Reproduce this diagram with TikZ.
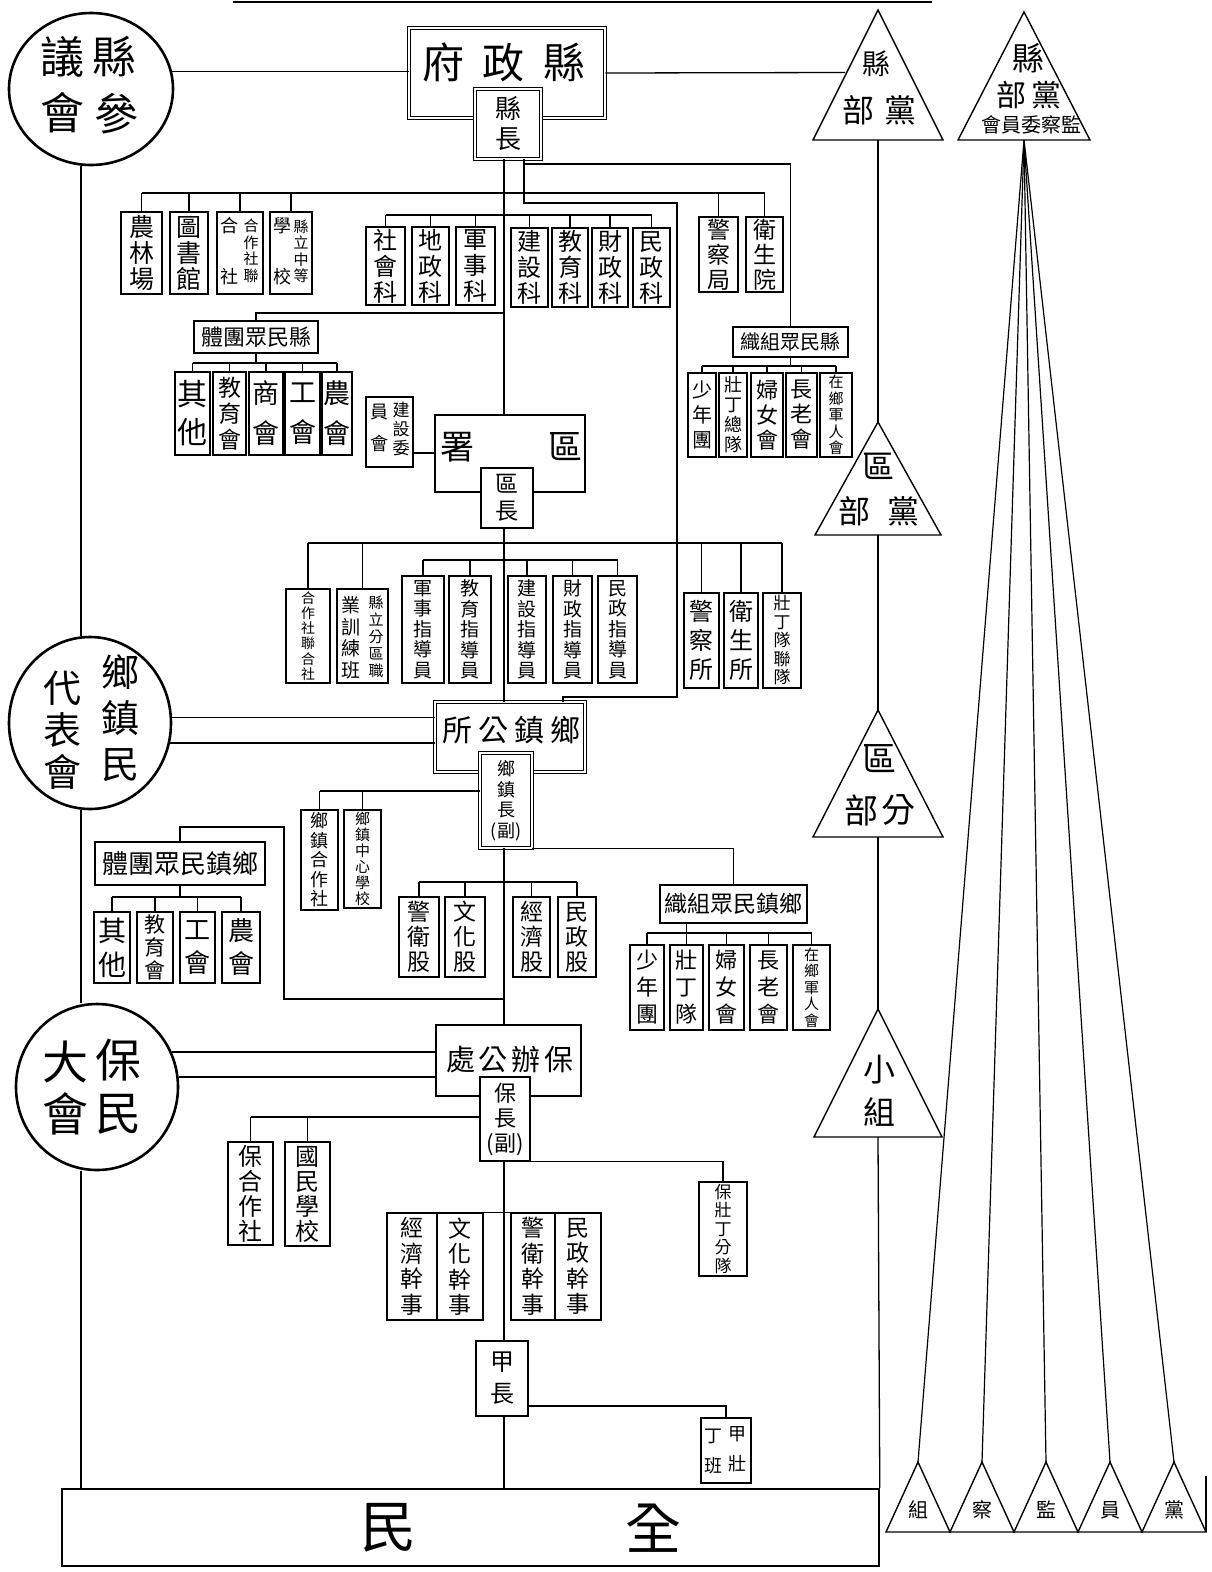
\documentclass[tikz,border=0pt]{standalone}
\usepackage{fontspec}
\newfontfamily\cjk{Noto Sans CJK TC}
\usetikzlibrary{shapes.geometric}
\newcommand\bx[7][]{\node[vb,minimum width={(#5)-(#3)},minimum height={(#6)-(#4)},#1] (#2) at ({((#3)+(#5))/2},{((#4)+(#6))/2}) {#7};}
\newcommand\drops[2]{\foreach \nd in {#2}{\draw[ln] (\nd.north) -- (\nd.north |- 0,#1);}}
\newcommand\hbus[3]{\draw[ln] (#2.north |- 0,#1) -- (#3.north |- 0,#1);}
\newcommand\ptri[5]{\draw[tri] ({#2-#5},#4) -- (#2,#3) -- ({#2+#5},#4) -- cycle;
  \coordinate (#1-t) at (#2,#3); \coordinate (#1-b) at (#2,#4);}
\begin{document}
\begin{tikzpicture}[x=1pt,y=-1pt,
  ln/.style={line width=1.3pt},
  vb/.style={draw,line width=1.3pt,inner sep=0pt,fill=white,align=center,font=\cjk},
  dbl/.style={double,double distance=2.4pt,line width=0.9pt},
  fs/.style 2 args={font=\cjk\fontsize{#1}{#2}\selectfont},
  tx/.style={inner sep=0pt,align=center},
  tri/.style={line width=1.4pt,line join=miter},
  circ/.style={draw,ellipse,line width=2.6pt,inner sep=0pt}]
\useasboundingbox (0,0) rectangle (1212,1572);
\fill[white] (0,0) rectangle (1212,1572);
\draw[ln] (233,2) -- (932,2);

% ---------- circles (councils)
\node[circ,minimum width=164,minimum height=152] (c1) at (91,89) {};
\node[tx,fs={44}{44}] (c1a) at (62,57) {議};
\node[tx,fs={44}{44}] (c1b) at (114,57) {縣};
\node[tx,fs={44}{44}] (c1c) at (62,113) {會};
\node[tx,fs={44}{44}] (c1d) at (116,114) {參};

\node[circ,minimum width=162,minimum height=172] (c2) at (90,723) {};
\node[tx,fs={38}{38}] (c2a) at (120,672) {鄉};
\node[tx,fs={38}{38}] (c2b) at (120,718) {鎮};
\node[tx,fs={38}{38}] (c2c) at (120,765) {民};
\node[tx,fs={38}{38}] (c2d) at (62,688) {代};
\node[tx,fs={38}{38}] (c2e) at (62,730) {表};
\node[tx,fs={38}{38}] (c2f) at (62,772) {會};

\node[circ,minimum width=162,minimum height=166] (c3) at (97,1087) {};
\node[tx,fs={46}{46}] (c3a) at (65,1062) {大};
\node[tx,fs={46}{46}] (c3b) at (118,1060) {保};
\node[tx,fs={46}{46}] (c3c) at (65,1114) {會};
\node[tx,fs={46}{46}] (c3d) at (118,1114) {民};

% ---------- party triangles
\ptri{t1}{878}{10}{140}{65}
\ptri{t2}{1024}{12}{140}{66}
\ptri{t3}{878}{422}{535}{63}
\ptri{t4}{878}{710}{837}{65}
\ptri{t5}{878}{1009}{1137}{64}
\ptri{b1}{918}{1462}{1532}{32}
\ptri{b2}{982}{1462}{1532}{32}
\ptri{b3}{1046}{1462}{1532}{32}
\ptri{b4}{1110}{1462}{1532}{32}
\ptri{b5}{1174}{1462}{1532}{32}
\coordinate (t1-l) at (845,72.5);
\node[tx,fs={28}{28}] (t1a) at (876,64) {縣};
\node[tx,fs={32}{32}] (t1b) at (858,110) {部};
\node[tx,fs={32}{32}] (t1c) at (900,110) {黨};
\node[tx,fs={32}{32}] (t2a) at (1028,58) {縣};
\node[tx,fs={30}{30}] (t2b) at (1011,95) {部};
\node[tx,fs={30}{30}] (t2c) at (1046,95) {黨};
\node[tx,fs={20}{20}] (t2d) at (1031,125) {會員委察監};
\node[tx,fs={32}{32}] (t3a) at (878,466) {區};
\node[tx,fs={32}{32}] (t3b) at (854,511) {部};
\node[tx,fs={32}{32}] (t3c) at (903,511) {黨};
\node[tx,fs={34}{34}] (t4a) at (879,759) {區};
\node[tx,fs={34}{34}] (t4b) at (861,810) {部};
\node[tx,fs={34}{34}] (t4c) at (898,810) {分};
\node[tx,fs={32}{32}] (t5a) at (879,1070) {小};
\node[tx,fs={32}{32}] (t5b) at (879,1112) {組};
\node[tx,fs={20}{20}] (bt1) at (918,1510) {組};
\node[tx,fs={20}{20}] (bt2) at (982,1510) {察};
\node[tx,fs={20}{20}] (bt3) at (1046,1510) {監};
\node[tx,fs={20}{20}] (bt4) at (1110,1510) {員};
\node[tx,fs={20}{20}] (bt5) at (1174,1510) {黨};
\draw[ln] (b5-b) ++(32,0) -- ++(0,-56);

% ---------- county government
\bx[dbl]{xzf}{409}{28}{605}{118}{}
\node[tx,fs={42}{42}] (xzft) at (504,62) {府\hspace{19pt}政\hspace{19pt}縣};
\bx[dbl,fs={26}{30}]{xz}{475}{89}{541}{159}{縣\\長}

\bx[fs={25}{26}]{nlc}{121}{212}{162}{294}{農\\林\\場}
\bx[fs={25}{26}]{tsg}{170}{212}{208}{294}{圖\\書\\館}
\bx{hzs}{217}{212}{263}{294}{}
\node[tx,fs={15}{16.5}] (hzsa) at (251,251) {合\\作\\社\\聯};
\node[tx,fs={18}{18}] (hzsb) at (229,226) {合};
\node[tx,fs={18}{18}] (hzsc) at (229,277) {社};
\bx{xlzd}{270}{212}{312}{294}{}
\node[tx,fs={15}{16.5}] (xlzda) at (301,251) {縣\\立\\中\\等};
\node[tx,fs={18}{18}] (xlzdb) at (282,226) {學};
\node[tx,fs={18}{18}] (xlzdc) at (282,277) {校};

\bx[fs={24}{26}]{shk}{366}{227}{405}{305}{社\\會\\科}
\bx[fs={24}{26}]{dzk}{412}{227}{449}{305}{地\\政\\科}
\bx[fs={24}{26}]{jsk}{456}{227}{495}{305}{軍\\事\\科}
\bx[fs={24}{26}]{jsk2}{511}{228}{548}{307}{建\\設\\科}
\bx[fs={24}{26}]{jyk}{552}{228}{588}{307}{教\\育\\科}
\bx[fs={24}{26}]{czk}{592}{228}{628}{307}{財\\政\\科}
\bx[fs={24}{26}]{mzk}{633}{228}{670}{307}{民\\政\\科}
\bx[fs={23}{25}]{jcj}{699}{217}{738}{292}{警\\察\\局}
\bx[fs={23}{25}]{wsy}{746}{217}{783}{292}{衛\\生\\院}

\bx[fs={22}{22}]{xmtt}{194}{321}{318}{353}{體團眾民縣}
\bx[fs={30}{38}]{qt1}{175}{372}{210}{455}{其\\他}
\bx[fs={23}{26}]{jyh1}{213}{372}{246}{455}{教\\育\\會}
\bx[fs={27}{40}]{sh}{249}{372}{283}{455}{商\\會}
\bx[fs={27}{40}]{gh1}{285}{372}{320}{455}{工\\會}
\bx[fs={27}{40}]{nh1}{322}{372}{352}{455}{農\\會}

\bx{jswyh}{366}{397}{413}{467}{}
\node[tx,fs={17}{19}] (jswyha) at (401,429) {建\\設\\委};
\node[tx,fs={18}{32}] (jswyhb) at (379,428) {員\\會};

\bx{qs}{435}{415}{585}{492}{}
\node[tx,fs={34}{34}] (qsa) at (457,447) {署};
\node[tx,fs={34}{34}] (qsb) at (565,447) {區};
\bx[fs={23}{27}]{qz}{481}{468}{533}{528}{區\\長}

\bx[fs={20}{20}]{xmzz}{733}{327}{848}{357}{織組眾民縣}
\bx[fs={20}{25}]{snt1}{688}{373}{716}{457}{少\\年\\團}
\bx[fs={18}{20}]{zdzd}{719}{373}{747}{457}{壯\\丁\\總\\隊}
\bx[fs={22}{25}]{fnh1}{751}{373}{783}{457}{婦\\女\\會}
\bx[fs={22}{25}]{zlh1}{786}{373}{817}{457}{長\\老\\會}
\bx[fs={15}{16.5}]{zxjr1}{820}{373}{852}{457}{在\\鄉\\軍\\人\\會}

% ---------- district
\bx[fs={14}{15.2}]{hz2}{286}{589}{330}{683}{合\\作\\社\\聯\\合\\社}
\bx{zyb}{337}{589}{388}{683}{}
\node[tx,fs={15}{17}] (zyba) at (376,637) {縣\\立\\分\\區\\職};
\node[tx,fs={19}{21.5}] (zybb) at (351,638) {業\\訓\\練\\班};
\bx[fs={19}{20.5}]{jszd}{402}{576}{444}{683}{軍\\事\\指\\導\\員}
\bx[fs={19}{20.5}]{jyzd}{449}{576}{491}{683}{教\\育\\指\\導\\員}
\bx[fs={19}{20.5}]{jszd2}{508}{576}{546}{683}{建\\設\\指\\導\\員}
\bx[fs={19}{20.5}]{czzd}{553}{576}{592}{683}{財\\政\\指\\導\\員}
\bx[fs={19}{20.5}]{mzzd}{598}{576}{637}{683}{民\\政\\指\\導\\員}
\bx[fs={24}{29}]{jcs}{684}{593}{719}{688}{警\\察\\所}
\bx[fs={24}{29}]{wss}{724}{593}{758}{688}{衛\\生\\所}
\bx[fs={17}{18.5}]{zdld}{763}{593}{801}{688}{壯\\丁\\隊\\聯\\隊}

% ---------- township
\bx[dbl]{xzgs}{435}{702}{585}{772}{}
\node[tx,fs={30}{30}] (xzgst) at (511,730) {所\hspace{6pt}公\hspace{6pt}鎮\hspace{6pt}鄉};
\bx[dbl,fs={18}{20.5}]{xzz}{480}{753}{532}{848}{鄉\\鎮\\長\\(副)}

\bx[fs={18}{19.5}]{hzs3}{301}{810}{338}{910}{鄉\\鎮\\合\\作\\社}
\bx[fs={15}{16}]{zxxx}{344}{810}{381}{908}{鄉\\鎮\\中\\心\\學\\校}
\bx[fs={23}{25}]{jwg}{399}{897}{439}{977}{警\\衛\\股}
\bx[fs={23}{25}]{whg}{445}{897}{485}{977}{文\\化\\股}
\bx[fs={23}{25}]{jjg}{513}{897}{550}{977}{經\\濟\\股}
\bx[fs={23}{25}]{mzg}{558}{897}{596}{977}{民\\政\\股}

\bx[fs={23}{23}]{xzmz}{660}{885}{807}{923}{織組眾民鎮鄉}
\bx[fs={22}{27}]{snt2}{630}{945}{664}{1030}{少\\年\\團}
\bx[fs={22}{27}]{zdd}{670}{945}{703}{1030}{壯\\丁\\隊}
\bx[fs={22}{27}]{fnh2}{709}{945}{744}{1030}{婦\\女\\會}
\bx[fs={22}{27}]{zlh2}{750}{945}{787}{1030}{長\\老\\會}
\bx[fs={15}{16.5}]{zxjr2}{793}{945}{830}{1030}{在\\鄉\\軍\\人\\會}

\bx[fs={26}{26}]{xmtt2}{95}{842}{265}{885}{體團眾民鎮鄉}
\bx[fs={28}{34}]{qt2}{94}{912}{130}{983}{其\\他}
\bx[fs={21}{23}]{jyh2}{137}{912}{173}{983}{教\\育\\會}
\bx[fs={26}{33}]{gh2}{180}{912}{215}{983}{工\\會}
\bx[fs={26}{33}]{nh2}{222}{912}{260}{983}{農\\會}

% ---------- bao
\bx{bbgc}{436}{1025}{581}{1096}{}
\node[tx,fs={29}{29}] (bbgct) at (510,1060) {處\hspace{4pt}公\hspace{4pt}辦\hspace{4pt}保};
\bx[fs={22}{25}]{bz}{480}{1077}{530}{1161}{保\\長\\(副)}
\bx[fs={24}{25}]{bhzs}{228}{1142}{273}{1245}{保\\合\\作\\社}
\bx[fs={24}{25}]{gmxx}{285}{1142}{330}{1246}{國\\民\\學\\校}
\bx[fs={17}{18.5}]{bzd}{699}{1182}{747}{1276}{保\\壯\\丁\\分\\隊}
\bx[fs={23}{25.5}]{jjgs}{387}{1213}{437}{1320}{經\\濟\\幹\\事}
\bx[fs={23}{25.5}]{whgs}{437}{1213}{483}{1320}{文\\化\\幹\\事}
\bx[fs={23}{25.5}]{jwgs}{511}{1213}{555}{1320}{警\\衛\\幹\\事}
\bx[fs={23}{25.5}]{mzgs}{555}{1213}{601}{1320}{民\\政\\幹\\事}
\bx[fs={24}{32}]{jz}{476}{1341}{528}{1416}{甲\\長}
\bx{jzdb}{701}{1418}{751}{1483}{}
\node[tx,fs={18}{30}] (jzdba) at (737,1449) {甲\\壯};
\node[tx,fs={18}{30}] (jzdbb) at (713,1451) {丁\\班};

\bx[line width=1.6pt]{bar}{62}{1489}{879}{1566}{}
\node[tx,fs={56}{56}] (bara) at (388,1528) {民};
\node[tx,fs={56}{56}] (barb) at (653,1528) {全};

% ---------- connectors
\coordinate (lx) at (81,0);
\coordinate (tr) at (504,0);
\draw[ln] (lx |- c1.south) -- (lx |- c2.north);
\draw[ln] (lx |- c2.south) -- (lx |- c3.north);
\draw[ln] (lx |- c3.south) -- (lx |- bar.north);
\draw[ln] (c1.12.6) -- (xzf.west |- c1.12.6);
\draw[ln] (xzf.east) -- (t1-l);
\draw[ln] (c2.4) -- (xzgs.west |- c2.4);
\draw[ln] (c2.346.6) -- (xzgs.west |- c2.346.6);
\draw[ln] (c3.25.5) -- (bbgc.west |- c3.25.5);
\draw[ln] (c3.7) -- (bbgc.west |- c3.7);

% party line and fan
\draw[ln] (t1-b) -- (t3-t);
\draw[ln] (t3-b) -- (t4-t);
\draw[ln] (t4-b) -- (t5-t);
\draw[ln] (t5-b) -- (bar.north east);
\foreach \i in {1,...,5} {\draw[line width=1.2pt] (t2-b) -- (b\i-t);}

% trunk
\draw[ln] (tr |- xz.south) -- (tr |- qs.north);
\draw[ln] (tr |- qz.south) -- (tr |- xzgs.north);
\draw[ln] (tr |- xzz.south) -- (tr |- bbgc.north);
\draw[ln] (tr |- bz.south) -- (tr |- jz.north);
\draw[ln] (tr |- jz.south) -- (tr |- bar.north);

% county branches
\hbus{193}{nlc}{wsy}
\drops{193}{nlc,tsg,hzs,xlzd,jcj,wsy}
\hbus{215}{shk}{mzk}
\drops{215}{shk,dzk,jsk,jsk2,jyk,czk,mzk}
\coordinate (L3a) at (677,203);
\coordinate (L3b) at (677,697);
\draw[ln] ([xshift=16pt]xz.south) |- (L3a) -- (L3b) -| ([xshift=53pt]xzgs.north);
\coordinate (L4a) at (524,164);
\draw[ln] (L4a) -| (xmzz.north);
\draw[ln] (xmtt.north) |- (tr |- 0,313);
\draw[ln] (xmtt.south) -- (xmtt.south |- 0,363);
\hbus{363}{qt1}{nh1}
\drops{363}{qt1,jyh1,sh,gh1,nh1}
\draw[ln] (jswyh.east |- 0,453) -- (qs.west |- 0,453);
\draw[ln] (xmzz.south) -- (xmzz.south |- 0,366);
\hbus{366}{snt1}{zxjr1}
\drops{366}{snt1,zdzd,fnh1,zlh1,zxjr1}

% district branches
\hbus{543}{hz2}{zdld}
\drops{543}{hz2,zyb,jcs,wss,zdld}
\hbus{560}{jszd}{mzzd}
\drops{560}{jszd,jyzd,jszd2,czzd,mzzd}

% township branches
\draw[ln] (hzs3.north |- 0,791) -- (xzz.west |- 0,791);
\drops{791}{hzs3,zxxx}
\hbus{882}{jwg}{mzg}
\drops{882}{jwg,whg,jjg,mzg}
\draw[ln] (xzz.south east) -| (xzmz.north);
\draw[ln] (zdd.north |- xzmz.south) -- (zdd.north |- 0,933);
\hbus{933}{snt2}{zxjr2}
\drops{933}{snt2,zdd,fnh2,zlh2,zxjr2}
\coordinate (K1) at (284,827);
\coordinate (K2) at (284,999);
\draw[ln] (xmtt2.north) |- (K1) -- (K2) -- (tr |- K2);
\draw[ln] (xmtt2.south) -- (xmtt2.south |- 0,897);
\hbus{897}{qt2}{nh2}
\drops{897}{qt2,jyh2,gh2,nh2}

% bao branches
\draw[ln] (bhzs.north |- 0,1117) -- (bz.west |- 0,1117);
\drops{1117}{bhzs,gmxx}
\draw[ln] (bz.south east) -| (bzd.north);
\draw[ln] (whgs.north east) -- (jwgs.north west);
\draw[ln] (jz.east |- 0,1406) -| (jzdb.north);
\end{tikzpicture}
\end{document}
